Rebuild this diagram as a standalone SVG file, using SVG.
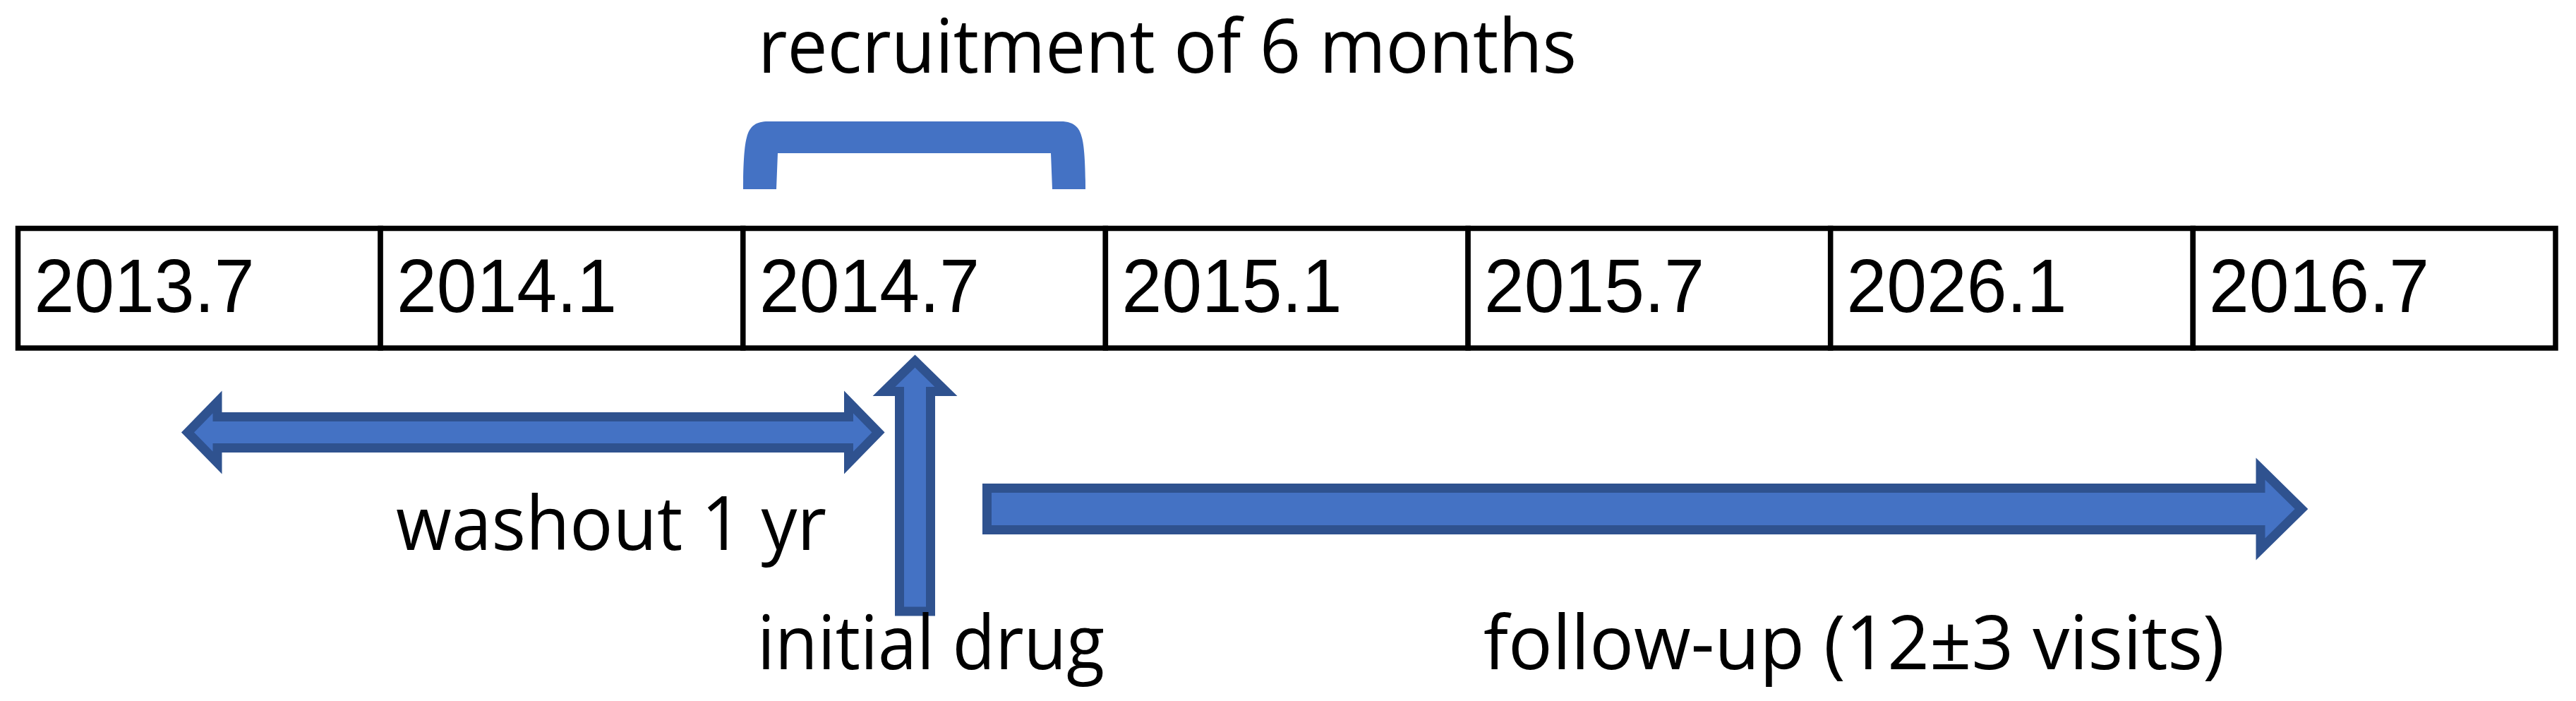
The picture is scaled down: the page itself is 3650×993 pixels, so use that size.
<svg xmlns="http://www.w3.org/2000/svg" width="3650" height="993" viewBox="0 0 3650 993">
<style>
.cell{fill:#ffffff;stroke:#000000;stroke-width:7.5}
.yr{font-family:"Liberation Sans",Arial,sans-serif;font-size:108px;fill:#000000}
.lbl{font-family:"Open Sans","Noto Sans",sans-serif;font-size:106px;fill:#000000}
.arr{fill:#4472C4;stroke:#2F528F;stroke-width:13;stroke-miterlimit:10;stroke-linejoin:miter}
</style>
<rect x="0" y="0" width="3650" height="993" fill="#ffffff"/>
<g id="cell-2013-7"><rect class="cell" x="25.5" y="323.5" width="513.6" height="169.5"/><text class="yr" x="48.5" y="442" textLength="312" lengthAdjust="spacingAndGlyphs">2013.7</text></g>
<g id="cell-2014-1"><rect class="cell" x="539.1" y="323.5" width="513.7" height="169.5"/><text class="yr" x="562" y="442" textLength="312" lengthAdjust="spacingAndGlyphs">2014.1</text></g>
<g id="cell-2014-7"><rect class="cell" x="1052.8" y="323.5" width="513.6" height="169.5"/><text class="yr" x="1076" y="442" textLength="312" lengthAdjust="spacingAndGlyphs">2014.7</text></g>
<g id="cell-2015-1"><rect class="cell" x="1566.4" y="323.5" width="513.7" height="169.5"/><text class="yr" x="1589.5" y="442" textLength="312" lengthAdjust="spacingAndGlyphs">2015.1</text></g>
<g id="cell-2015-7"><rect class="cell" x="2080.1" y="323.5" width="513.6" height="169.5"/><text class="yr" x="2103" y="442" textLength="312" lengthAdjust="spacingAndGlyphs">2015.7</text></g>
<g id="cell-2026-1"><rect class="cell" x="2593.7" y="323.5" width="513.6" height="169.5"/><text class="yr" x="2616.5" y="442" textLength="312" lengthAdjust="spacingAndGlyphs">2026.1</text></g>
<g id="cell-2016-7"><rect class="cell" x="3107.3" y="323.5" width="513.7" height="169.5"/><text class="yr" x="3130" y="442" textLength="312" lengthAdjust="spacingAndGlyphs">2016.7</text></g>
<g id="recruitment">
<path fill="#4472C4" d="M1053,268 C1053,230 1055,205 1058,195 C1062,178 1072,172 1088,172 L1503,172 C1519,172 1529,178 1533,195 C1536,205 1538,230 1538,268 L1491,268 L1489,217 L1102,217 L1100,268 Z"/>
<text class="lbl" x="1074" y="103" textLength="1160" lengthAdjust="spacingAndGlyphs">recruitment of 6 months</text>
</g>
<g id="connectors">
<path id="washout-arrow" class="arr" d="M266,612.5 L308,569.5 L308,590.5 L1202.5,590.5 L1202.5,569.5 L1244.5,612.5 L1202.5,655.5 L1202.5,634.5 L308,634.5 L308,655.5 Z"/>
<path id="initial-arrow" class="arr" d="M1296.5,511.5 L1340.5,554.5 L1318.5,554.5 L1318.5,866 L1274.5,866 L1274.5,554.5 L1252.5,554.5 Z"/>
<path id="followup-arrow" class="arr" d="M1398.5,691.5 L3203,691.5 L3203,664 L3261,721 L3203,778 L3203,750.5 L1398.5,750.5 Z"/>
</g>
<g id="label-washout"><text class="lbl" x="561" y="779" textLength="610" lengthAdjust="spacingAndGlyphs">washout 1 yr</text></g>
<g id="label-initial"><text class="lbl" x="1073" y="948" textLength="492" lengthAdjust="spacingAndGlyphs">initial drug</text></g>
<g id="label-followup"><text class="lbl" x="2102" y="948" textLength="1050" lengthAdjust="spacingAndGlyphs">follow-up (12±3 visits)</text></g>
</svg>
